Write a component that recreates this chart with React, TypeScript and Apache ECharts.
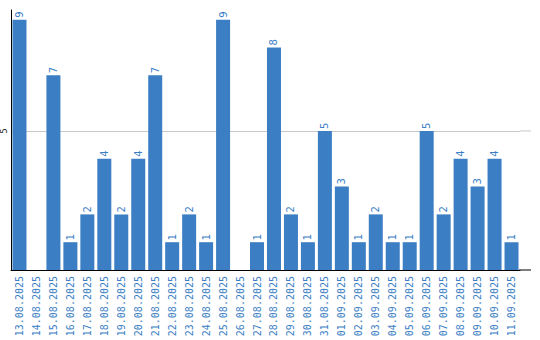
import React, { useEffect, useRef } from "react";
import * as echarts from "echarts";

const categories = [
  "13.08.2025", "14.08.2025", "15.08.2025", "16.08.2025", "17.08.2025",
  "18.08.2025", "19.08.2025", "20.08.2025", "21.08.2025", "22.08.2025",
  "23.08.2025", "24.08.2025", "25.08.2025", "26.08.2025", "27.08.2025",
  "28.08.2025", "29.08.2025", "30.08.2025", "31.08.2025", "01.09.2025",
  "02.09.2025", "03.09.2025", "04.09.2025", "05.09.2025", "06.09.2025",
  "07.09.2025", "08.09.2025", "09.09.2025", "10.09.2025", "11.09.2025",
];
const values = [9, 0, 7, 1, 2, 4, 2, 4, 7, 1, 2, 1, 9, 0, 1, 8, 2, 1, 5, 3, 1, 2, 1, 1, 5, 2, 4, 3, 4, 1];
const yMax = 9.35;
const yInterval = 5;

const BLUE = "#3b7ec4";

export default function App() {
  const ref = useRef<HTMLDivElement>(null);
  useEffect(() => {
    if (!ref.current) return;
    const chart = echarts.init(ref.current, undefined, { renderer: "svg" });
    chart.setOption({
      animation: false,
      grid: { left: 10, right: 20, top: 10, bottom: 70, containLabel: false },
      xAxis: {
        type: "category",
        data: categories,
        axisLine: { lineStyle: { color: "#000", width: 1 } },
        axisTick: { show: false },
        axisLabel: {
          rotate: 90,
          margin: 6,
          interval: 0,
          color: BLUE,
          fontSize: 10,
          fontFamily: "DejaVu Sans Mono",
        },
      },
      yAxis: {
        type: "value",
        min: 0,
        max: yMax,
        interval: yInterval,
        axisLine: { show: true, lineStyle: { color: "#000", width: 1 } },
        axisTick: { show: false },
        splitLine: { showMaxLine: false, showMinLine: false, lineStyle: { color: "#c8c8c8", width: 1 } },
        axisLabel: {
          rotate: 90,
          margin: 3,
          fontSize: 8,
          color: "#222",
          fontFamily: "DejaVu Sans",
          showMinLabel: false,
          showMaxLabel: false,
        },
      },
      series: [
        {
          type: "bar",
          data: values,
          barWidth: 14,
          itemStyle: { color: BLUE },
          label: {
            show: true,
            position: "top",
            rotate: 90,
            align: "left",
            verticalAlign: "middle",
            distance: 2,
            color: BLUE,
            fontSize: 10,
            fontFamily: "DejaVu Sans",
            formatter: (p: any) => (p.value ? String(p.value) : ""),
          },
        },
      ],
    });
    const y0 = chart.convertToPixel({ yAxisIndex: 0 }, 0) as number;
    const y5 = chart.convertToPixel({ yAxisIndex: 0 }, yInterval) as number;
    chart.setOption({
      graphic: [
        { type: "line", shape: { x1: 520, y1: y5, x2: 531, y2: y5 }, style: { stroke: "#c8c8c8", lineWidth: 1 } },
        { type: "line", shape: { x1: 519, y1: y0, x2: 531, y2: y0 }, style: { stroke: "#000", lineWidth: 1 } },
      ],
    });
    return () => chart.dispose();
  }, []);
  return <div ref={ref} style={{ width: 540, height: 340, position: "absolute", left: 0, top: 0 }} />;
}
